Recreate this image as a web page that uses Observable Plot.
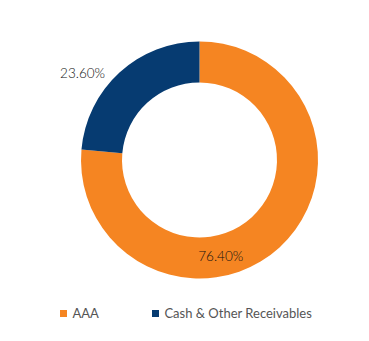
<!DOCTYPE html>
<html><head><meta charset="utf-8">
<script src="https://cdn.jsdelivr.net/npm/d3@7"></script>
<script src="https://cdn.jsdelivr.net/npm/@observablehq/plot@0.6"></script>
<style>
body{margin:0;background:#fff;font-family:Lato,"Open Sans",sans-serif;}
#chart svg{display:block;}
#legend{padding-left:60px;margin-top:5px;width:309px;}
#legend .lg-swatches{font-family:Lato,"Open Sans",sans-serif !important;font-size:13px !important;color:#555 !important;margin:0 !important;line-height:16px;min-height:16px !important;display:flex !important;flex-wrap:nowrap !important;white-space:nowrap;}
#legend .lg-swatch{margin-right:53px !important;}
#legend .lg-swatch:last-child{margin-right:0 !important;}
#legend .lg-swatch svg{margin-right:5.5px !important;}
</style></head><body>
<div id="chart"></div><div id="legend"></div>
<script>
const categories = ["AAA", "Cash & Other Receivables"];
const shares = [76.40, 23.60];
const shareLabels = ["76.40%", "23.60%"];
const colors = ["#F58522", "#063B71"];

const W = 369, H = 300;
const cx = 199.5, cy = 160, rOuter = 118.5, rInner = 77.5;
// label placement along each slice (fraction of slice angle, radius)
const labelPlace = [{f: 0.61, r: 98}, {f: 0.37, r: 146}];

const data = categories.map((c, i) => ({category: c, share: shares[i], label: shareLabels[i]}));
const arcs = d3.pie().sort(null).value(d => d.share)(data);
const labelPts = arcs.map((a, i) => {
  const ang = a.startAngle + labelPlace[i].f * (a.endAngle - a.startAngle);
  return {label: a.data.label, x: cx + labelPlace[i].r * Math.sin(ang), y: cy - labelPlace[i].r * Math.cos(ang)};
});

const colorOpts = {domain: categories, range: colors};

function donutMark(...args) {
  const scales = args.find(a => a && typeof a.x === "function") || {};
  const xs = scales.x || (v => v), ys = scales.y || (v => v);
  const col = scales.color || d3.scaleOrdinal(categories, colors);
  const g = d3.create("svg:g").attr("transform", `translate(${xs(cx)},${ys(cy)})`);
  const arcGen = d3.arc().innerRadius(rInner).outerRadius(rOuter);
  g.selectAll("path").data(arcs).join("path")
    .attr("d", arcGen)
    .attr("fill", d => col(d.data.category));
  return g.node();
}

const chart = Plot.plot({
  width: W, height: H, margin: 0,
  style: {background: "#fff", overflow: "visible"},
  x: {domain: [0, W], range: [0, W], axis: null},
  y: {domain: [0, H], range: [0, H], axis: null},
  color: colorOpts,
  marks: [
    Plot.dot(data, {x: () => cx, y: () => cy, fill: "category", r: 0}),
    donutMark,
    Plot.text(labelPts, {x: "x", y: "y", text: "label", fontSize: 13.5, fontWeight: 300, fill: "#111", fontFamily: "Lato, 'Open Sans', sans-serif"})
  ]
});
document.getElementById("chart").appendChild(chart);

const legend = Plot.legend({color: colorOpts, legend: "swatches", swatchSize: 7, className: "lg"});
document.getElementById("legend").appendChild(legend);
</script></body></html>
